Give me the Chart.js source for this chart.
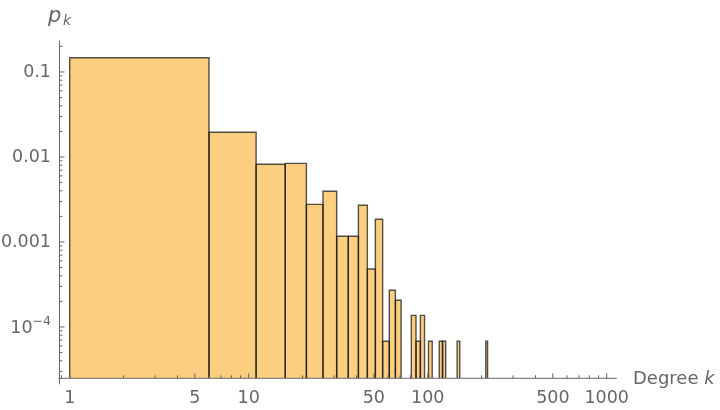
<!DOCTYPE html>
<html lang="en">
<head>
  <meta charset="UTF-8"/>
  <title>Degree distribution</title>
  <script src="https://cdn.jsdelivr.net/npm/chart.js"></script>
  <style>
    body { margin: 0; background: #fff; }
  </style>
</head>
<body>
  <canvas id="chart" width="720" height="410"></canvas>

  <script>
    // histogram bins (degree k) and heights p_k
    const binLow  = [1, 6, 11, 16, 21, 26, 31, 36, 41, 46, 51, 56, 61, 66, 81, 86, 91, 101, 116, 121, 146, 211]
    const binHigh = [6, 11, 16, 21, 26, 31, 36, 41, 46, 51, 56, 61, 66, 71, 86, 91, 96, 106, 121, 126, 151, 216]
    const pk = [0.147, 0.0195, 0.0082, 0.0084, 0.00277, 0.00395, 0.00117, 0.00117, 0.0027, 0.00048, 0.00185,
                0.000068, 0.00027, 0.000206, 0.000137, 0.000068, 0.000137, 0.000068, 0.000068, 0.000068, 0.000068, 0.000068]

    const xTickValues = [1, 5, 10, 50, 100, 500, 1000]
    const xTickLabels = ['1', '5', '10', '50', '100', '500', '1000']
    const yTickValues = [0.1, 0.01, 0.001, 0.0001]
    const yTickLabels = ['0.1', '0.01', '0.001', '']   // 10^-4 is drawn with a real superscript below

    const xMin = 0.877, xMax = 1137
    const yMin = 2.49e-5, yMax = 0.2333

    const gray = '#666666'
    const font = 'DejaVu Sans'

    // minor ticks at 1..9 x 10^n inside the range
    function logTicks(min, max) {
      const out = []
      for (let e = -6; e <= 4; e++) {
        for (let m = 1; m <= 9; m++) {
          const v = m * Math.pow(10, e)
          if (v >= min && v <= max) out.push(v)
        }
      }
      return out
    }
    const same = (a, b) => Math.abs(a - b) / b < 1e-6
    const labelFor = (vals, labels, v) => {
      const i = vals.findIndex(t => same(t, v))
      return i < 0 ? '' : labels[i]
    }

    const datasets = binLow.map((lo, i) => ({
      data: [
        { x: lo, y: yMin }, { x: lo, y: pk[i] },
        { x: binHigh[i], y: pk[i] }, { x: binHigh[i], y: yMin }
      ],
      fill: 'start',
      backgroundColor: 'rgb(252, 206, 128)',
      borderColor: 'rgba(25, 25, 25, 0.75)',
      borderWidth: 1.4,
      pointRadius: 0,
      tension: 0
    }))

    const axesPlugin = {
      id: 'axes',
      afterDraw(chart) {
        const ctx = chart.ctx
        const a = chart.chartArea
        const xs = chart.scales.x, ys = chart.scales.y
        ctx.save()
        ctx.strokeStyle = gray
        ctx.lineWidth = 1
        ctx.beginPath()
        ctx.moveTo(a.left, a.top); ctx.lineTo(a.left, a.bottom + 6)
        ctx.moveTo(a.left - 1, a.bottom); ctx.lineTo(a.right, a.bottom)
        xs.ticks.forEach(t => {
          const px = xs.getPixelForValue(t.value)
          const len = xTickValues.some(v => same(v, t.value)) ? 5 : 3
          ctx.moveTo(px, a.bottom); ctx.lineTo(px, a.bottom - len)
        })
        ys.ticks.forEach(t => {
          const py = ys.getPixelForValue(t.value)
          const len = yTickValues.some(v => same(v, t.value)) ? 5 : 3
          ctx.moveTo(a.left, py); ctx.lineTo(a.left + len, py)
        })
        ctx.stroke()

        ctx.fillStyle = gray
        ctx.textBaseline = 'alphabetic'

        // 10^-4 tick label
        const py4 = ys.getPixelForValue(1e-4)
        const right = a.left - 8.5
        ctx.font = '12.5px "' + font + '"'
        const sup = '\u22124'
        const supW = ctx.measureText(sup).width
        ctx.textAlign = 'left'
        ctx.fillText(sup, right - supW, py4 - 2)
        ctx.font = '17.5px "' + font + '"'
        ctx.textAlign = 'right'
        ctx.fillText('10', right - supW, py4 + 6.5)

        // axis titles
        ctx.textAlign = 'left'
        ctx.font = 'italic 21px "' + font + '"'
        ctx.fillText('p', 48, 22)
        ctx.font = 'italic 14px "' + font + '"'
        ctx.fillText('k', 63, 25)
        ctx.font = '18px "' + font + '"'
        ctx.fillText('Degree ', 633, 384)
        const w = ctx.measureText('Degree ').width
        ctx.font = 'italic 18px "' + font + '"'
        ctx.fillText('k', 633 + w, 384)
        ctx.restore()
      }
    }

    new Chart(document.getElementById('chart'), {
      type: 'line',
      data: { datasets },
      plugins: [axesPlugin],
      options: {
        responsive: false,
        animation: false,
        events: [],
        layout: { padding: { top: 40.7, right: 103.3, left: 0, bottom: 0 } },
        plugins: {
          legend: { display: false },
          tooltip: { enabled: false },
          filler: { drawTime: 'beforeDatasetsDraw' }
        },
        scales: {
          x: {
            type: 'logarithmic',
            min: xMin,
            max: xMax,
            afterBuildTicks: s => { s.ticks = logTicks(xMin, xMax).map(v => ({ value: v })) },
            afterFit: s => { s.height = 31.7 },
            grid: { display: false, drawTicks: false },
            border: { display: false },
            ticks: {
              autoSkip: false,
              maxRotation: 0,
              padding: 10,
              color: gray,
              font: { family: font, size: 17.5 },
              callback: v => labelFor(xTickValues, xTickLabels, v)
            }
          },
          y: {
            type: 'logarithmic',
            min: yMin,
            max: yMax,
            afterBuildTicks: s => { s.ticks = logTicks(yMin, yMax).map(v => ({ value: v })) },
            afterFit: s => { s.width = 59.5 },
            grid: { display: false, drawTicks: false },
            border: { display: false },
            ticks: {
              autoSkip: false,
              padding: 8.5,
              color: gray,
              font: { family: font, size: 17.5 },
              callback: v => labelFor(yTickValues, yTickLabels, v)
            }
          }
        }
      }
    })
  </script>
</body>
</html>
